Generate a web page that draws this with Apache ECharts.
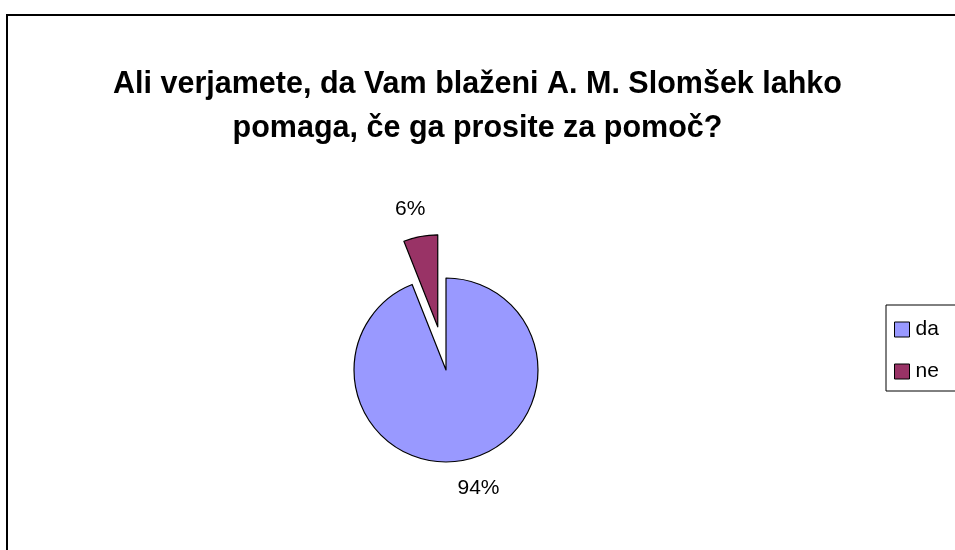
<!DOCTYPE html>
<html lang="sl">
<head>
    <meta charset="UTF-8">
    <title>Slomšek</title>
    <script src="https://cdn.jsdelivr.net/npm/echarts@6/dist/echarts.min.js"></script>
    <style>
        body { margin: 0; background: #fff; }
        #main { width: 955px; height: 550px; }
    </style>
</head>
<body>

<div id="main"></div>

<script>
    // podatki
    var categories = ['da', 'ne'];
    var values = [94, 6];
    var colors = ['#9999FF', '#993366'];
    var titleText = 'Ali verjamete, da Vam blaženi A. M. Slomšek lahko\npomaga, če ga prosite za pomoč?';

    var myChart = echarts.init(document.getElementById('main'));

    var pieData = categories.map(function (name, i) {
        return {
            name: name,
            value: values[i],
            selected: name === 'ne',
            itemStyle: { color: colors[i] }
        };
    });

    var option = {
        animation: false,
        textStyle: { fontFamily: 'Liberation Sans, Arial, sans-serif' },
        graphic: [{
            type: 'rect',
            shape: { x: 7, y: 15, width: 1000, height: 600 },
            style: { fill: 'none', stroke: '#000', lineWidth: 2 },
            silent: true
        }],
        title: {
            text: titleText,
            left: 'center',
            top: 58,
            textStyle: {
                fontSize: 30.5,
                fontWeight: 'bold',
                color: '#000',
                lineHeight: 44
            }
        },
        legend: {
            orient: 'vertical',
            left: 886,
            top: 305,
            padding: [14, 20, 9, 8],
            itemWidth: 15,
            itemHeight: 15,
            itemGap: 21,
            borderColor: '#000',
            borderWidth: 1,
            icon: 'rect',
            itemStyle: { borderColor: '#000', borderWidth: 1 },
            textStyle: { fontSize: 21, color: '#000', padding: [0, 0, 0, 1] },
            data: categories
        },
        series: [{
            type: 'pie',
            center: [446, 370],
            radius: 92,
            startAngle: 90,
            clockwise: true,
            selectedMode: 'single',
            selectedOffset: 44,
            itemStyle: { borderColor: '#000', borderWidth: 1.2 },
            label: {
                show: true,
                position: 'outside',
                formatter: '{d}%',
                fontSize: 21,
                color: '#000'
            },
            labelLine: { show: false, length: 28, length2: 0 },
            labelLayout: function (p) {
                // Excel sets the labels centred, the big one a bit to the right
                return { align: 'center', dx: p.dataIndex === 0 ? 5 : 0 };
            },
            emphasis: { disabled: true },
            data: pieData
        }]
    };

    myChart.setOption(option);
</script>

</body>
</html>
